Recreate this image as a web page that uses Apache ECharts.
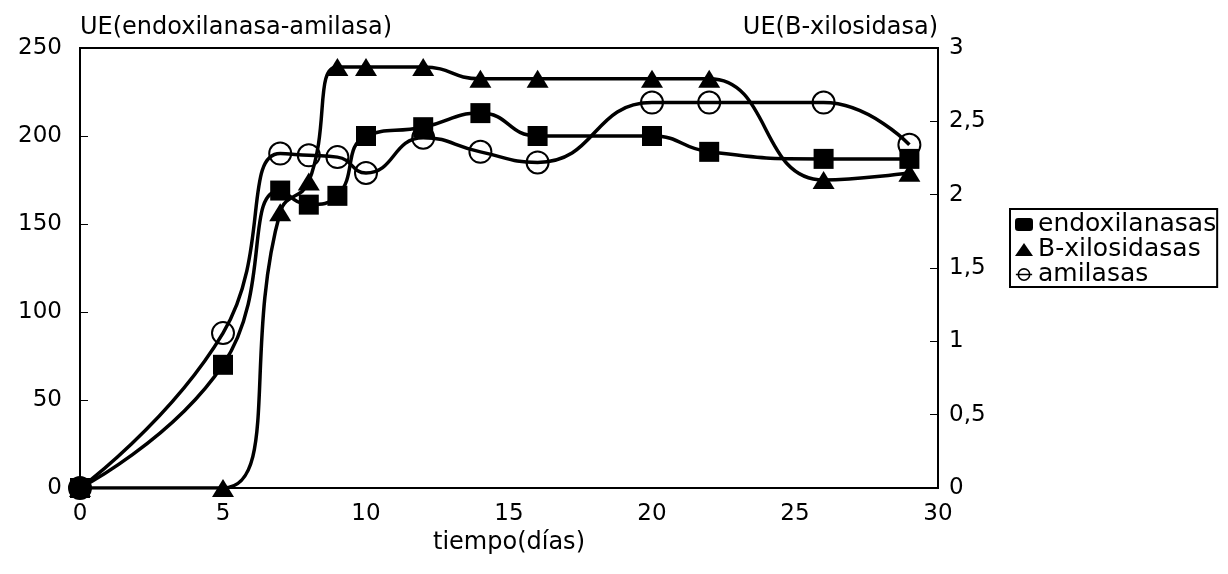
<!DOCTYPE html>
<html>
<head>
<meta charset="utf-8">
<title>Actividad enzimática</title>
<script src="https://cdn.jsdelivr.net/npm/echarts@6/dist/echarts.min.js"></script>
<style>
  html, body { margin: 0; padding: 0; background: #fff; }
  #chart { width: 1228px; height: 574px; }
</style>
</head>
<body>
<div id="chart"></div>
<script>
// Tiempo de cultivo (días)
const dias = [0, 5, 7, 8, 9, 10, 12, 14, 16, 20, 22, 26, 29];
// UE endoxilanasa (eje izquierdo)
const endoxilanasas = [0, 70, 169, 161, 166, 200, 205, 213, 200, 200, 191, 187, 187];
// UE B-xilosidasa (eje derecho)
const xilosidasas = [0, 0, 1.88, 2.09, 2.87, 2.87, 2.87, 2.79, 2.79, 2.79, 2.79, 2.10, 2.15];
// UE amilasa (eje izquierdo)
const amilasas = [0, 88, 190, 189, 188, 179, 199, 191, 185, 219, 219, 219, 195];

const ticksX = [0, 5, 10, 15, 20, 25, 30];
const ticksIzq = [0, 50, 100, 150, 200, 250];
const ticksDer = [0, 0.5, 1, 1.5, 2, 2.5, 3];

const FONT = 'DejaVu Sans';
const txt = size => ({ color: '#000', fontFamily: FONT, fontWeight: 'normal', fontSize: size });

const pares = ys => dias.map((d, i) => [d, ys[i]]);
const lineaNegra = { color: '#000', width: 3.5 };

const chart = echarts.init(document.getElementById('chart'), null, { renderer: 'canvas' });

chart.setOption({
  backgroundColor: '#fff',
  animation: false,
  grid: {
    left: 80, right: 290, top: 48, bottom: 86,
    show: true, borderColor: '#000', borderWidth: 2
  },
  legend: {
    orient: 'vertical',
    left: 1010, top: 209,
    padding: [3, 1, 0, 5],
    itemGap: 0,
    itemWidth: 18, itemHeight: 13,
    borderColor: '#000', borderWidth: 2,
    textStyle: txt(25),
    data: [
      { name: 'endoxilanasas', icon: 'roundRect', itemStyle: { color: '#000' } },
      { name: 'B-xilosidasas', icon: 'triangle', itemStyle: { color: '#000' } },
      {
        name: 'amilasas',
        icon: 'path://M2,10A8,8 0 1,1 18,10A8,8 0 1,1 2,10ZM4,10A6,6 0 1,0 16,10A6,6 0 1,0 4,10ZM0,9H20V11H0Z',
        itemStyle: { color: '#000', borderWidth: 0 }
      }
    ]
  },
  xAxis: {
    type: 'value',
    min: ticksX[0], max: ticksX[ticksX.length - 1], interval: 5,
    name: 'tiempo(días)',
    nameLocation: 'middle',
    nameGap: 43,
    nameTextStyle: txt(24),
    axisLine: { lineStyle: { color: '#000', width: 2 } },
    axisTick: { show: false },
    splitLine: { show: false },
    axisLabel: Object.assign(txt(23), { margin: 15 })
  },
  yAxis: [
    {
      type: 'value',
      min: ticksIzq[0], max: ticksIzq[ticksIzq.length - 1], interval: 50,
      position: 'left',
      name: 'UE(endoxilanasa-amilasa)',
      nameLocation: 'end',
      nameGap: 8,
      nameTextStyle: Object.assign(txt(24), { align: 'left' }),
      axisLine: { show: true, lineStyle: { color: '#000', width: 2 } },
      axisTick: { show: true, inside: true, length: 8, lineStyle: { color: '#000', width: 1 } },
      splitLine: { show: false },
      axisLabel: Object.assign(txt(23), { margin: 18 })
    },
    {
      type: 'value',
      min: ticksDer[0], max: ticksDer[ticksDer.length - 1], interval: 0.5,
      position: 'right',
      name: 'UE(B-xilosidasa)',
      nameLocation: 'end',
      nameGap: 8,
      nameTextStyle: Object.assign(txt(24), { align: 'right' }),
      axisLine: { show: true, lineStyle: { color: '#000', width: 2 } },
      axisTick: { show: true, inside: true, length: 8, lineStyle: { color: '#000', width: 1 } },
      splitLine: { show: false },
      axisLabel: Object.assign(txt(23), {
        margin: 11,
        formatter: v => String(v).replace('.', ',')
      })
    }
  ],
  series: [
    {
      name: 'endoxilanasas',
      type: 'line',
      yAxisIndex: 0,
      smooth: 0.5,
      data: pares(endoxilanasas),
      symbol: 'rect',
      symbolSize: 20,
      lineStyle: lineaNegra,
      itemStyle: { color: '#000' }
    },
    {
      name: 'B-xilosidasas',
      type: 'line',
      yAxisIndex: 1,
      smooth: 0.5,
      data: pares(xilosidasas),
      symbol: 'triangle',
      symbolSize: [22, 18],
      lineStyle: lineaNegra,
      itemStyle: { color: '#000' }
    },
    {
      name: 'amilasas',
      type: 'line',
      yAxisIndex: 0,
      smooth: 0.5,
      data: pares(amilasas),
      symbol: 'circle',
      symbolSize: 22,
      lineStyle: lineaNegra,
      itemStyle: { color: 'rgba(255,255,255,0)', borderColor: '#000', borderWidth: 2 }
    }
  ]
});
</script>
</body>
</html>
